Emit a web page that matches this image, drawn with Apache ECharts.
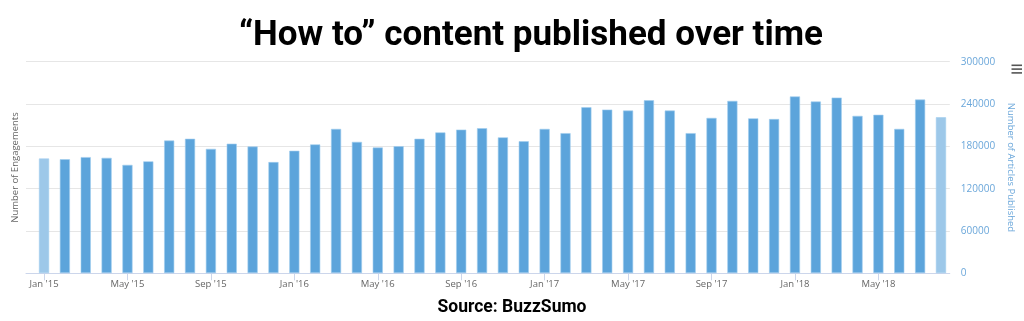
<!DOCTYPE html>
<html>
<head>
<meta charset="utf-8">
<script src="https://cdn.jsdelivr.net/npm/echarts@6/dist/echarts.min.js"></script>
<style>
html,body{margin:0;padding:0;background:#fff;}
#c{width:1024px;height:321px;}
</style>
</head>
<body>
<div id="c"></div>
<script>
const titleText = '\u201CHow to\u201D content published over time';
const sourceText = 'Source: BuzzSumo';
const months = ["Jan '15","Feb '15","Mar '15","Apr '15","May '15","Jun '15","Jul '15","Aug '15","Sep '15","Oct '15","Nov '15","Dec '15",
  "Jan '16","Feb '16","Mar '16","Apr '16","May '16","Jun '16","Jul '16","Aug '16","Sep '16","Oct '16","Nov '16","Dec '16",
  "Jan '17","Feb '17","Mar '17","Apr '17","May '17","Jun '17","Jul '17","Aug '17","Sep '17","Oct '17","Nov '17","Dec '17",
  "Jan '18","Feb '18","Mar '18","Apr '18","May '18","Jun '18","Jul '18","Aug '18"];
const articles = [163000,162000,165000,164000,154000,159000,188500,191000,176700,184000,180000,158000,
  174000,183000,205000,186600,178600,180500,191000,200000,204000,206000,193000,187500,
  205000,199000,235700,232400,231000,245600,231000,199000,220600,244700,220000,219000,
  251000,243800,249400,223500,225000,205000,246600,221500];
const partialMonths = ["Jan '15","Aug '18"];
const yTicks = [0,60000,120000,180000,240000,300000];

const barColor = '#5ca4db';
const partialColor = '#9dc8e9';
const chart = echarts.init(document.getElementById('c'), null, {renderer:'canvas'});
const gridTop = 61.7, gridBottom = 321-273.3;
const option = {
  animation:false,
  backgroundColor:'#fff',
  title:[
    {text:titleText,left:234,top:14,textStyle:{fontFamily:'Roboto',fontWeight:'bold',fontSize:35,color:'#000'}},
    {text:sourceText,left:'center',top:294,textStyle:{fontFamily:'Roboto',fontWeight:'bold',fontSize:17.5,color:'#000'}}
  ],
  grid:[
    {left:26,right:63,top:gridTop,bottom:gridBottom},
    {left:33.6,right:72.6,top:gridTop,bottom:gridBottom}
  ],
  xAxis:[
    {type:'value',gridIndex:0,min:0,max:1,axisLine:{show:true,lineStyle:{color:'#ccd6eb',width:1}},axisTick:{show:false},axisLabel:{show:false},splitLine:{show:false}},
    {type:'category',gridIndex:1,data:months,boundaryGap:true,
      axisLine:{show:false},
      axisTick:{show:true,interval:3,alignWithLabel:true,length:7,lineStyle:{color:'#ccd6eb'}},
      axisLabel:{interval:3,margin:6,fontFamily:'Open Sans',fontSize:9.5,color:'#666'}}
  ],
  yAxis:[
    {type:'value',gridIndex:0,position:'right',min:yTicks[0],max:yTicks[yTicks.length-1],interval:yTicks[1]-yTicks[0],
      axisLine:{show:false},axisTick:{show:false},
      axisLabel:{margin:11,fontFamily:'Open Sans',fontSize:10,color:'#6ba7da',formatter:v=>String(v)},
      splitLine:{lineStyle:{color:'#e6e6e6',width:1}},
      name:'Number of Articles Published',nameLocation:'middle',nameRotate:-90,nameGap:44,
      nameTextStyle:{fontFamily:'Open Sans',fontSize:9.5,color:'#6ba7da'}},
    {type:'value',gridIndex:1,position:'left',min:yTicks[0],max:yTicks[yTicks.length-1],interval:yTicks[1]-yTicks[0],
      axisLine:{show:false},axisTick:{show:false},axisLabel:{show:false},splitLine:{show:false},
      name:'Number of Engagements',nameLocation:'middle',nameRotate:90,nameGap:13,
      nameTextStyle:{fontFamily:'Open Sans',fontSize:9.5,color:'#666'}}
  ],
  graphic:[
    {type:'rect',shape:{x:1011.5,y:64.5,width:10.5,height:1.6},style:{fill:'#555'}},
    {type:'rect',shape:{x:1011.5,y:68.3,width:10.5,height:1.6},style:{fill:'#555'}},
    {type:'rect',shape:{x:1011.5,y:72.1,width:10.5,height:1.6},style:{fill:'#555'}}
  ],
  series:[
    {type:'bar',xAxisIndex:1,yAxisIndex:1,barWidth:10.5,
      data:articles.map((v,i)=>({value:v,itemStyle:{color: partialMonths.includes(months[i]) ? partialColor : barColor}})),
      itemStyle:{borderColor:'rgba(160,205,238,0.6)',borderWidth:1}}
  ]
};
chart.setOption(option);
</script>
</body>
</html>
